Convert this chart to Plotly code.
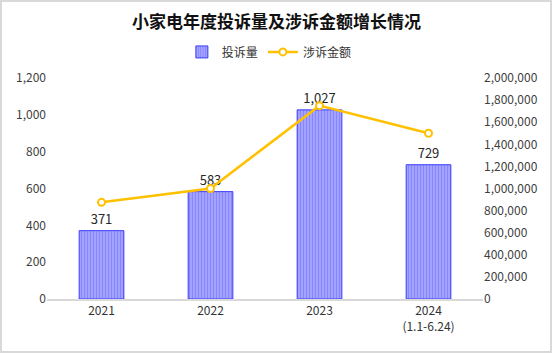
import plotly.graph_objects as go

categories = ["2021", "2022", "2023", "2024<br>(1.1-6.24)"]
complaints = [371, 583, 1027, 729]
amounts = [875000, 1000000, 1750000, 1500000]
left_ticks = [0, 200, 400, 600, 800, 1000, 1200]
right_ticks = [0, 200000, 400000, 600000, 800000, 1000000, 1200000, 1400000, 1600000, 1800000, 2000000]

FONT = "Noto Sans CJK SC, Microsoft YaHei, sans-serif"
fig = go.Figure()
fig.add_trace(go.Bar(
    x=categories, y=complaints, name="投诉量",
    marker=dict(color="#9b9bff", line=dict(color="#3b3bff", width=1),
                pattern=dict(shape="|", fgcolor="#6a6aff", bgcolor="#a3a3ff", size=3, solidity=0.35)),
    width=0.41,
    text=[f"{v:,}" for v in complaints], textposition="outside",
    textfont=dict(size=13, color="#262626", family=FONT),
    cliponaxis=False,
))
fig.add_trace(go.Scatter(
    x=categories, y=amounts, name="涉诉金额", yaxis="y2", mode="lines+markers",
    line=dict(color="#ffc000", width=2.5),
    marker=dict(symbol="circle", size=7, color="white", line=dict(color="#ffc000", width=2)),
))
fig.update_layout(
    width=553, height=354,
    margin=dict(l=47, r=70, t=78, b=55),
    paper_bgcolor="white", plot_bgcolor="white",
    font=dict(family=FONT, size=12, color="#404040"),
    title=dict(text="<b>小家电年度投诉量及涉诉金额增长情况</b>", x=0.5, xanchor="center", y=0.938, yanchor="middle",
               font=dict(size=17, color="#111111", family=FONT)),
    legend=dict(orientation="h", x=0.51, xanchor="center", y=1.118, yanchor="middle",
                font=dict(size=12, color="#333333"), traceorder="normal", itemwidth=30),
    bargap=0.59,
    xaxis=dict(showgrid=False, showline=True, linecolor="#d9d9d9", linewidth=1.5, ticks="",
               tickfont=dict(size=12, color="#333333")),
    yaxis=dict(range=[0, 1200], tickvals=left_ticks, tickformat=",", showgrid=False, zeroline=False,
               showline=False, tickfont=dict(size=12, color="#404040")),
    yaxis2=dict(range=[0, 2000000], tickvals=right_ticks, tickformat=",", overlaying="y", side="right",
                showgrid=False, zeroline=False, showline=False, tickfont=dict(size=12, color="#404040")),
    shapes=[dict(type="rect", xref="paper", yref="paper", x0=-46/436, x1=(553-47-2)/436,
                 y0=-53/221, y1=(354-55-1)/221, line=dict(color="#d9d9d9", width=2), fillcolor="rgba(0,0,0,0)")],
)
fig.write_html("out.html")
